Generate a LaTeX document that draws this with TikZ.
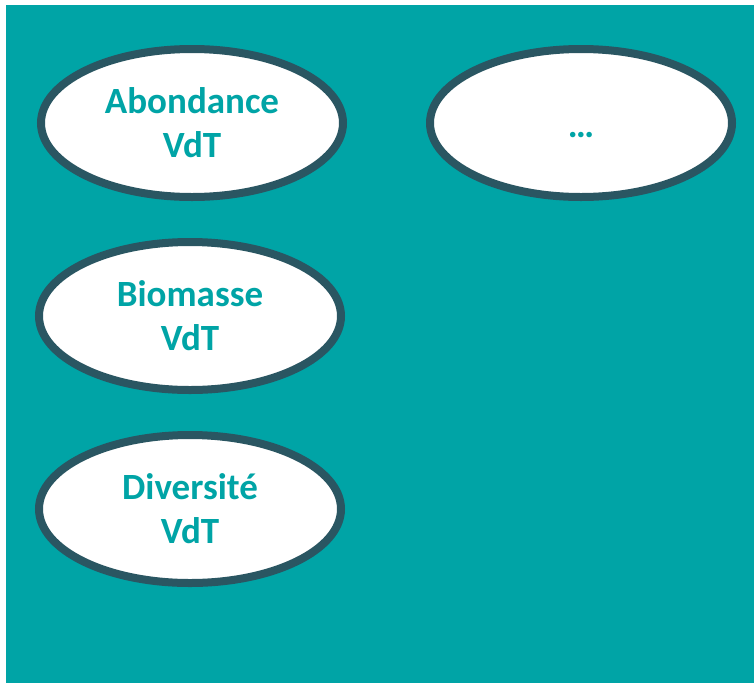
\documentclass[tikz,border=0pt]{standalone}
\usepackage{fontspec}
\setmainfont{Carlito}
\usetikzlibrary{shapes.geometric}
\definecolor{fond}{HTML}{00A4A6}
\definecolor{bord}{HTML}{2A5662}
\begin{document}
\begin{tikzpicture}[x=1pt,y=-1pt,
	indic/.style={ellipse, line width=8pt, draw=bord, fill=white, inner sep=0pt, minimum width=302pt, minimum height=148pt, align=center, text=fond, font=\fontsize{37}{44}\selectfont\bfseries}]
	\useasboundingbox (0,0) rectangle (754,683);
	\fill[fond] (6,5) rectangle (754,683);

	\node 	(abond)		at	(192,123) 	[indic]{Abondance\\VdT};

	\node 	(biom)		at	(190,316) 	[indic]{Biomasse\\VdT};

	\node 	(divers)	at	(190,509) 	[indic]{Diversité\\VdT};

	\node 	(autres)	at	(581,123) 	[indic]{\raisebox{-6pt}{…}\strut};

\end{tikzpicture}
\end{document}
